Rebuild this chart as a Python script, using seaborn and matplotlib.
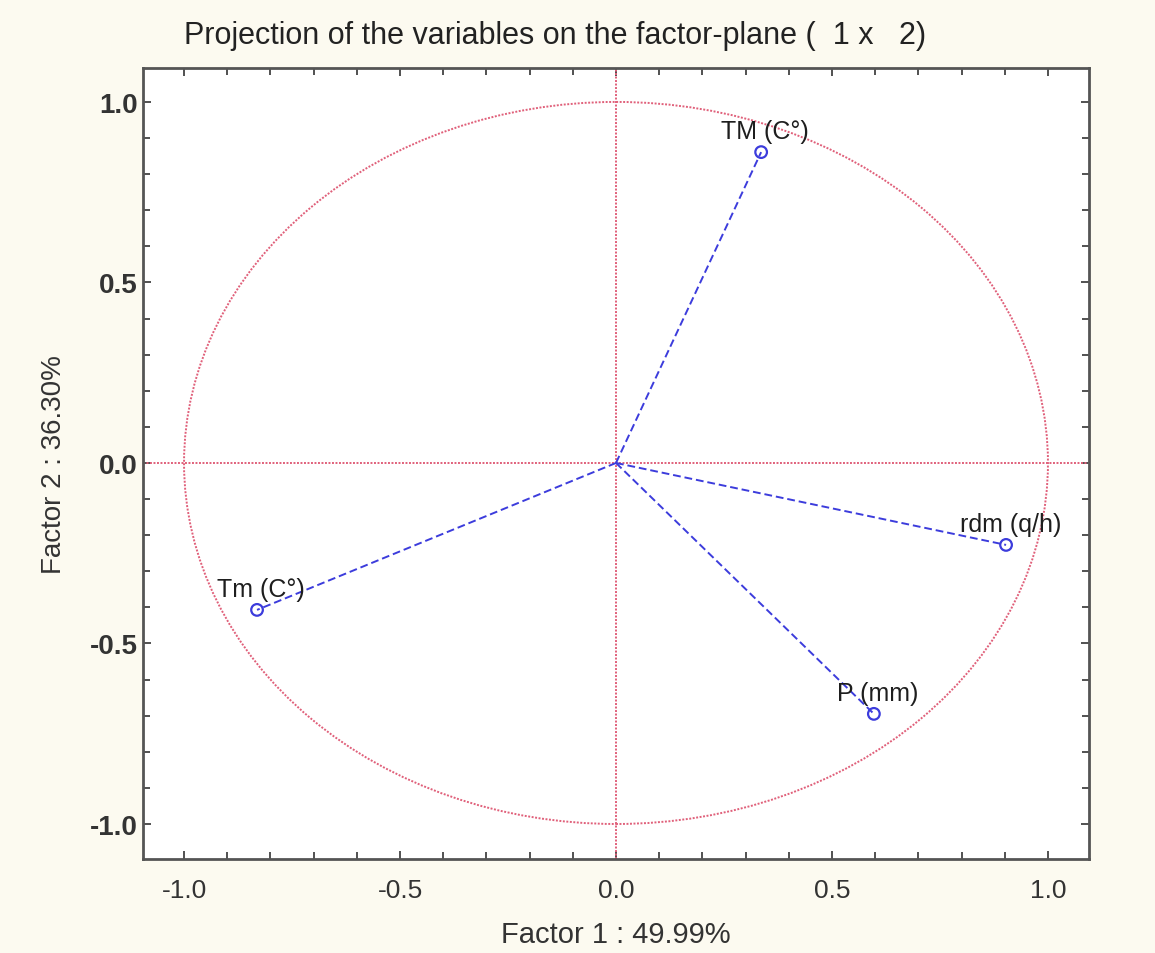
import matplotlib
matplotlib.use("Agg")
import matplotlib.pyplot as plt
from matplotlib.patches import Circle
from matplotlib.ticker import MultipleLocator, FormatStrFormatter
import seaborn as sns
import pandas as pd

# Variable loadings on the first two factors
variables = ["TM (C°)", "rdm (q/h)", "P (mm)", "Tm (C°)"]
factor1 = [0.336, 0.903, 0.597, -0.831]
factor2 = [0.861, -0.227, -0.695, -0.407]

title = "Projection of the variables on the factor-plane (  1 x   2)"
xlabel = "Factor 1 : 49.99%"
ylabel = "Factor 2 : 36.30%"

sns.set_theme(style="white")
plt.rcParams["font.family"] = ["Liberation Sans", "DejaVu Sans"]

fig = plt.figure(figsize=(11.55, 9.54), dpi=100, facecolor="#fcfaf0")
ax = fig.add_axes([143 / 1155, 1 - 860 / 954, (1089 - 143) / 1155, (860 - 69) / 954])
ax.set_facecolor("white")

red = "#e0607a"
blue = "#3c3cdc"

# unit circle and the zero axes
ax.add_patch(Circle((0, 0), 1.0, fill=False, ec=red, lw=1.4, ls=(0, (1, 0.8))))
ax.axhline(0, color=red, lw=1.4, ls=(0, (1, 0.8)), zorder=1)
ax.axvline(0, color=red, lw=1.4, ls=(0, (1, 0.8)), zorder=1)

# segments from the origin to each variable
seg = pd.DataFrame({
    "var": [v for v in variables for _ in range(2)],
    "x": [c for x in factor1 for c in (0.0, x)],
    "y": [c for y in factor2 for c in (0.0, y)],
})
sns.lineplot(data=seg, x="x", y="y", units="var", estimator=None, sort=False,
             color=blue, lw=1.4, ls=(0, (4, 2)), ax=ax, zorder=2)

pts = pd.DataFrame({"var": variables, "f1": factor1, "f2": factor2})
sns.scatterplot(data=pts, x="f1", y="f2", marker="o", s=70, facecolor="none",
                edgecolor=blue, linewidth=1.6, ax=ax, zorder=3)

for name, x, y in zip(variables, factor1, factor2):
    ax.annotate(name, (x, y), xytext=(3, 15), textcoords="offset points",
                ha="center", va="center", fontsize=18, fontweight="medium",
                color="#1e1e1e")

ax.set_xlim(-1.095, 1.095)
ax.set_ylim(-1.097, 1.094)
ax.xaxis.set_major_locator(MultipleLocator(0.5))
ax.yaxis.set_major_locator(MultipleLocator(0.5))
ax.xaxis.set_minor_locator(MultipleLocator(0.1))
ax.yaxis.set_minor_locator(MultipleLocator(0.1))
ax.tick_params(which="both", direction="in", top=True, right=True, bottom=True, left=True,
               color="#333333", width=1.2)
ax.tick_params(which="major", length=6, labelcolor="#333333")
ax.tick_params(which="minor", length=5)
ax.tick_params(axis="x", which="major", labelsize=19, pad=14)
ax.tick_params(axis="y", which="major", labelsize=20, pad=4)
ax.xaxis.set_major_formatter(FormatStrFormatter("%.1f"))
ax.yaxis.set_major_formatter(FormatStrFormatter("%.1f"))
for lab in ax.get_yticklabels():
    lab.set_fontweight("bold")
for s in ax.spines.values():
    s.set_color("#555555")
    s.set_linewidth(2)

ax.set_xlabel(xlabel, fontsize=21, color="#333333", labelpad=13)
ax.set_ylabel(ylabel, fontsize=20, color="#333333", labelpad=16)
fig.text(0.481, 1 - 36 / 954, title, ha="center", va="center", fontsize=22, color="#222222")

fig.savefig("out.png", dpi=100, facecolor=fig.get_facecolor())
